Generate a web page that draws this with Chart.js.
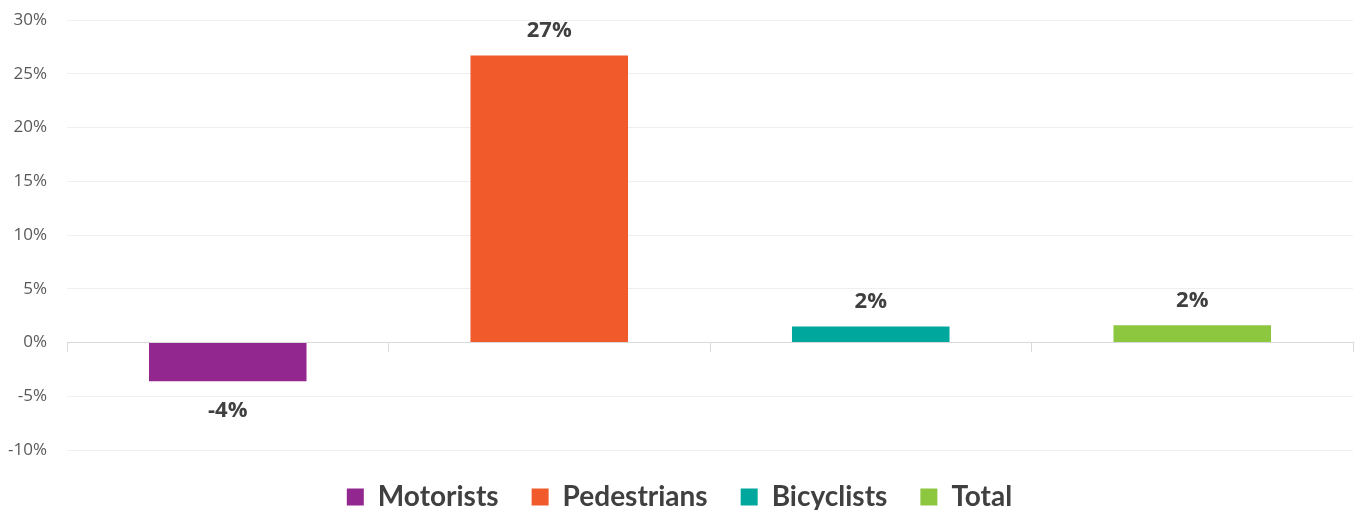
<!DOCTYPE html>
<html>
<head>
<meta charset="utf-8">
<title>Change by road user group</title>
<script src="https://cdn.jsdelivr.net/npm/chart.js@4/dist/chart.umd.min.js"></script>
<style>
  html, body { margin: 0; padding: 0; background: #fff; }
  #wrap { width: 1358px; height: 510px; }
</style>
</head>
<body>
<div id="wrap"><canvas id="changeChart"></canvas></div>
<script>
// categories and their percentage change
const categories = ["Motorists", "Pedestrians", "Bicyclists", "Total"];
const changes = [-3.6, 26.7, 1.5, 1.6];
const barColors = ["#92278f", "#f15a2b", "#00a79d", "#8dc63f"];
const yTicks = { min: -10, max: 30, step: 5 };

// one dataset per group so each gets its own legend entry
const datasets = categories.map((name, i) => ({
  label: name,
  data: categories.map((_, j) => (j === i ? changes[i] : null)),
  backgroundColor: barColors[i],
  borderWidth: 0,
  categoryPercentage: 1,
  barPercentage: 0.49,
  skipNull: true
}));

// value labels above (or below) each bar
const valueLabels = {
  id: "valueLabels",
  afterDatasetsDraw(chart) {
    const ctx = chart.ctx;
    ctx.save();
    ctx.font = "bold 22px 'Open Sans'";
    ctx.fillStyle = "#404040";
    ctx.textAlign = "center";
    ctx.textBaseline = "middle";
    chart.data.datasets.forEach((ds, i) => {
      const meta = chart.getDatasetMeta(i);
      meta.data.forEach((bar, j) => {
        const v = ds.data[j];
        if (v === null) return;
        const y = v >= 0 ? bar.y - 25 : bar.y + 30;
        ctx.fillText(Math.round(v) + "%", bar.x, y);
      });
    });
    ctx.restore();
  }
};

new Chart(document.getElementById("changeChart"), {
  type: "bar",
  data: { labels: categories, datasets },
  plugins: [valueLabels],
  options: {
    responsive: true,
    maintainAspectRatio: false,
    animation: false,
    layout: { padding: { top: 20, left: 6, right: 5, bottom: -11 } },
    plugins: {
      tooltip: { enabled: false },
      legend: {
        position: "bottom",
        labels: {
          boxWidth: 17,
          boxHeight: 17,
          padding: 33,
          color: "#404040",
          font: { family: "Lato", size: 28, weight: "bold" }
        }
      }
    },
    scales: {
      x: {
        position: { y: 0 },
        ticks: { display: false },
        grid: {
          offset: true,
          drawOnChartArea: false,
          drawTicks: true,
          tickLength: 9,
          color: "#d9d9d9",
          lineWidth: 1
        },
        border: { display: true, color: "#d9d9d9", width: 1 }
      },
      y: {
        min: yTicks.min,
        max: yTicks.max,
        afterFit: scale => {
          scale.width = 61;
          scale.paddingTop = 0;
          scale.paddingBottom = 0;
        },
        ticks: {
          stepSize: yTicks.step,
          padding: 20,
          color: "#595959",
          font: { family: "Open Sans", size: 17 },
          callback: v => v + "%"
        },
        grid: { color: "#efefef", drawTicks: false },
        border: { display: false }
      }
    }
  }
});
</script>
</body>
</html>
